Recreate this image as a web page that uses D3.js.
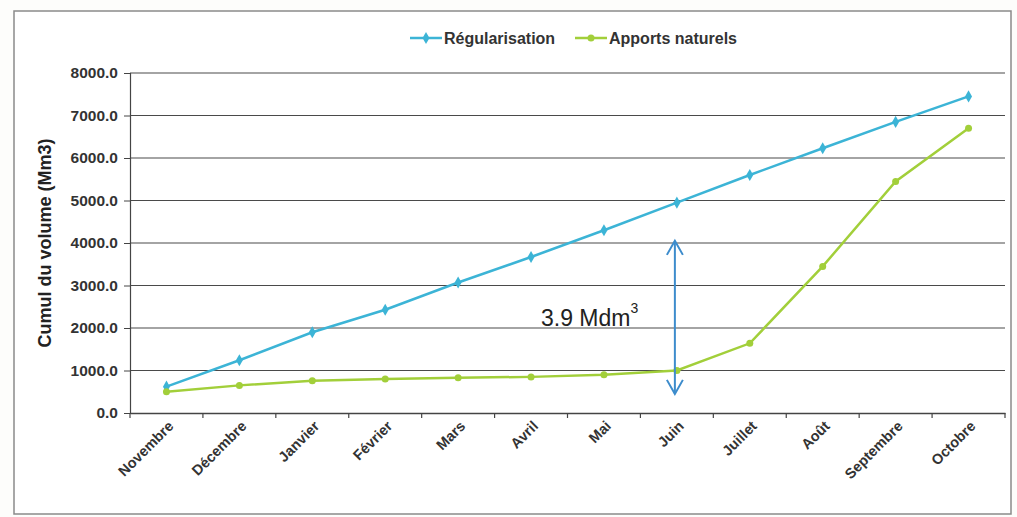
<!DOCTYPE html>
<html>
<head>
<meta charset="utf-8">
<script src="https://cdn.jsdelivr.net/npm/d3@7"></script>
<style>
  html, body { margin: 0; padding: 0; background: #fdfdfb; }
  svg { display: block; }
  text { font-family: "Liberation Sans", Arial, sans-serif; }
</style>
</head>
<body>
<svg id="chart" width="1017" height="517"></svg>
<script>
const months = ["Novembre","Décembre","Janvier","Février","Mars","Avril","Mai","Juin","Juillet","Août","Septembre","Octobre"];
const regularisation = [620, 1240, 1900, 2430, 3070, 3670, 4300, 4950, 5600, 6230, 6850, 7450];
const apportsNaturels = [500, 650, 760, 800, 830, 850, 900, 1000, 1640, 3450, 5450, 6700];
const yTicks = [0, 1000, 2000, 3000, 4000, 5000, 6000, 7000, 8000];
const seriesNames = ["Régularisation", "Apports naturels"];
const annotationMonth = "Juin";
const annotationRange = [450, 4050];
const annotationText = "3.9 Mdm";
const annotationTextPos = [2050]; // y value of text baseline

const svg = d3.select("#chart");
const W = 1017, H = 517;
const margin = {left: 130, right: 12, top: 73, bottom: 104};

// frame
svg.append("rect").attr("x", 14).attr("y", 11).attr("width", 997).attr("height", 503)
  .attr("fill", "#ffffff").attr("stroke", "#8a8a8a").attr("stroke-width", 1.5);

const x = d3.scaleBand().domain(months).range([margin.left, W - margin.right]).padding(0);
const y = d3.scaleLinear().domain([0, 8000]).range([H - margin.bottom, margin.top]);

// gridlines
svg.append("g").selectAll("line").data(yTicks.filter(d => d > 0)).join("line")
  .attr("x1", margin.left).attr("x2", W - margin.right)
  .attr("y1", d => y(d)).attr("y2", d => y(d))
  .attr("stroke", "#4a4a4a").attr("stroke-width", 1.2);

// y axis
const yAxis = d3.axisLeft(y).tickValues(yTicks).tickFormat(d3.format(".1f")).tickSize(6).tickPadding(6);
const gy = svg.append("g").attr("transform", `translate(${margin.left},0)`).call(yAxis);
gy.select(".domain").attr("stroke", "#444").attr("stroke-width", 1.2);
gy.selectAll(".tick line").attr("stroke", "#444");
gy.selectAll("text").attr("font-size", 15.5).attr("fill", "#333").attr("font-weight", "bold");

// x axis
const xAxis = d3.axisBottom(x).tickSize(0).tickFormat("");
const gx = svg.append("g").attr("transform", `translate(0,${y(0)})`).call(xAxis);
gx.select(".domain").attr("stroke", "#444").attr("stroke-width", 1.5);
// ticks at band boundaries
const bounds = months.map(m => x(m)).concat([x(months[months.length-1]) + x.bandwidth()]);
gx.append("g").selectAll("line").data(bounds).join("line")
  .attr("x1", d => d).attr("x2", d => d).attr("y1", 0).attr("y2", 5)
  .attr("stroke", "#444").attr("stroke-width", 1.2);
gx.append("g").selectAll("text").data(months).join("text")
  .attr("transform", d => `translate(${x(d) + x.bandwidth()/2 + 8},${14}) rotate(-45)`)
  .attr("text-anchor", "end")
  .attr("font-size", 14.5).attr("fill", "#333").attr("font-weight", "bold")
  .text(d => d);

// axis title
svg.append("text")
  .attr("transform", `translate(51,${(y(0)+y(8000))/2}) rotate(-90)`)
  .attr("text-anchor", "middle").attr("font-size", 18).attr("font-weight", "bold").attr("fill", "#222")
  .text("Cumul du volume (Mm3)");

const blue = "#3cb4d6", green = "#a2cf3a";
const cx = m => x(m) + x.bandwidth()/2;
const line = d3.line().x((d, i) => cx(months[i])).y(d => y(d));

svg.append("path").datum(regularisation).attr("d", line)
  .attr("fill", "none").attr("stroke", blue).attr("stroke-width", 2.5);
svg.append("path").datum(apportsNaturels).attr("d", line)
  .attr("fill", "none").attr("stroke", green).attr("stroke-width", 2.5);

const diamond = d3.symbol().type(d3.symbolDiamond).size(42);
svg.append("g").selectAll("path").data(regularisation).join("path")
  .attr("d", diamond).attr("transform", (d, i) => `translate(${cx(months[i])},${y(d)})`)
  .attr("fill", blue);
svg.append("g").selectAll("circle").data(apportsNaturels).join("circle")
  .attr("cx", (d, i) => cx(months[i])).attr("cy", d => y(d)).attr("r", 3.5)
  .attr("fill", green);

// annotation arrow
const ax = cx(annotationMonth) - 2;
const arrowColor = "#3d8ccc";
const y1 = y(annotationRange[1]), y0 = y(annotationRange[0]);
const ann = svg.append("g").attr("stroke", arrowColor).attr("stroke-width", 2).attr("fill", "none");
ann.append("line").attr("x1", ax).attr("x2", ax).attr("y1", y1).attr("y2", y0);
ann.append("path").attr("d", `M${ax-8},${y1+14} L${ax},${y1} L${ax+8},${y1+14}`);
ann.append("path").attr("d", `M${ax-8},${y0-14} L${ax},${y0} L${ax+8},${y0-14}`);

const t = svg.append("text").attr("x", 541).attr("y", y(annotationTextPos[0]) + 0)
  .attr("font-size", 23).attr("fill", "#222");
t.append("tspan").text(annotationText);
t.append("tspan").attr("dy", -13).attr("font-size", 14).text("3");

// legend
const legend = svg.append("g").attr("transform", "translate(0,38)");
const items = [{name: seriesNames[0], color: blue, x0: 410, sym: "diamond"},
               {name: seriesNames[1], color: green, x0: 575, sym: "circle"}];
items.forEach(it => {
  legend.append("line").attr("x1", it.x0).attr("x2", it.x0 + 32).attr("y1", 0).attr("y2", 0)
    .attr("stroke", it.color).attr("stroke-width", 2.5);
  if (it.sym === "diamond") {
    legend.append("path").attr("d", diamond).attr("transform", `translate(${it.x0+16},0)`).attr("fill", it.color);
  } else {
    legend.append("circle").attr("cx", it.x0 + 16).attr("cy", 0).attr("r", 3.5).attr("fill", it.color);
  }
  legend.append("text").attr("x", it.x0 + 34).attr("y", 5.5).attr("font-size", 16)
    .attr("font-weight", "bold").attr("fill", "#333").text(it.name);
});
</script>
</body>
</html>
